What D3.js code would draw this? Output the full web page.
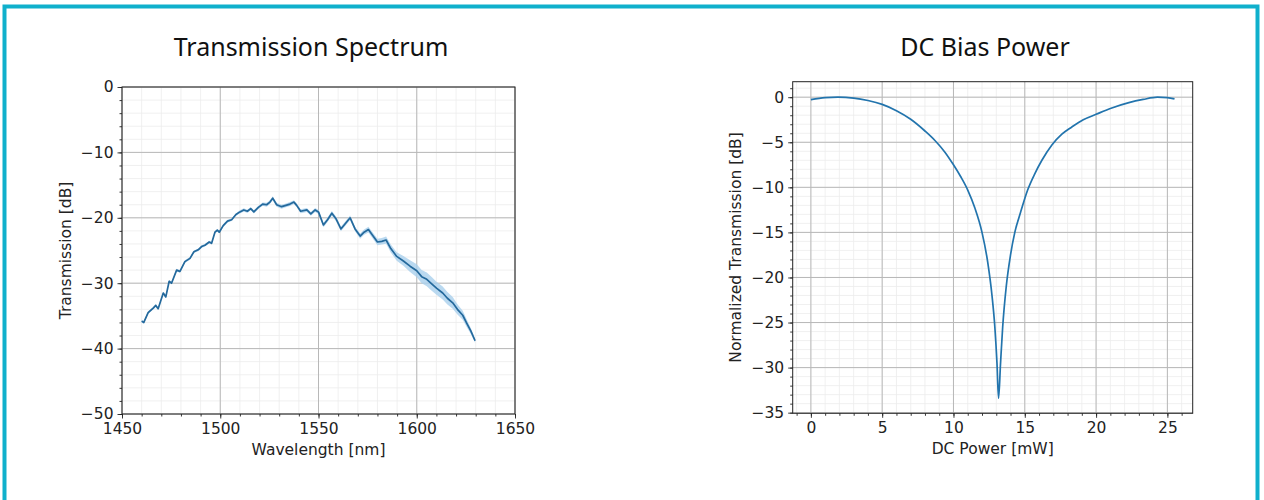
<!DOCTYPE html>
<html>
<head>
<meta charset="utf-8">
<script src="https://cdn.jsdelivr.net/npm/d3@7"></script>
<style>
  body { margin: 0; background: #fff; }
  svg { display: block; }
</style>
</head>
<body>
<svg id="chart" width="1264" height="500"></svg>
<script>
// Transmission spectrum (left panel)
const wavelength = [1460, 1461.1, 1463.3, 1465.9, 1467.2, 1468.4, 1471, 1472.3, 1474, 1475.2,
  1477.8, 1479.5, 1482, 1484.6, 1486.6, 1488.8, 1490.5, 1492.2, 1494.4, 1495.6,
  1497.3, 1498.5, 1499.5, 1501.5, 1503.7, 1505.8, 1508, 1510, 1512, 1513.8,
  1515.5, 1517.1, 1519.4, 1521.6, 1523.6, 1525.3, 1526.7, 1528.7, 1531.2, 1533.4,
  1535.5, 1537.5, 1538.9, 1540.9, 1544.1, 1546.1, 1548.3, 1550, 1552.5, 1554.6,
  1556.8, 1559, 1561.4, 1563.6, 1566.1, 1568.6, 1571.2, 1573.2, 1575.4, 1577.6,
  1580, 1582.2, 1584.4, 1586.8, 1589.8, 1593.2, 1596.6, 1600, 1602.5, 1605.1,
  1607.6, 1610.2, 1613.2, 1615.6, 1618.3, 1620.7, 1623.4, 1625.4, 1627.5, 1629.7];
const transmission = [-35.8, -36, -34.5, -33.8, -33.4, -33.9, -31.5, -32.1, -29.7, -30,
  -28, -28.2, -26.7, -26.2, -25.2, -24.9, -24.4, -24.2, -23.7, -23.9,
  -22.2, -21.9, -22.2, -21.2, -20.5, -20.3, -19.5, -19.1, -18.8, -19,
  -18.6, -19.1, -18.4, -17.9, -18, -17.6, -17, -18, -18.3, -18.1,
  -17.9, -17.6, -18.1, -19, -18.8, -19.4, -18.8, -19.1, -21.1, -20.3,
  -19.3, -20.2, -21.7, -20.9, -20, -21.7, -22.8, -22.2, -21.8, -22.7,
  -23.7, -23.6, -23.4, -24.7, -25.9, -26.6, -27.4, -28.1, -29, -29.4,
  -30.1, -30.8, -31.5, -32.3, -33, -34, -34.9, -36.1, -37.3, -38.8];
const transStd = [0.2, 0.2, 0.2, 0.2, 0.2, 0.2, 0.2, 0.2, 0.2, 0.2,
  0.2, 0.2, 0.2, 0.2, 0.2, 0.2, 0.2, 0.2, 0.2, 0.2,
  0.2, 0.2, 0.2, 0.2, 0.2, 0.2, 0.2, 0.25, 0.25, 0.25,
  0.25, 0.25, 0.25, 0.25, 0.3, 0.3, 0.3, 0.3, 0.3, 0.3,
  0.3, 0.3, 0.3, 0.3, 0.3, 0.3, 0.3, 0.3, 0.35, 0.35,
  0.35, 0.35, 0.35, 0.35, 0.35, 0.35, 0.4, 0.4, 0.45, 0.45,
  0.5, 0.5, 0.55, 0.6, 0.65, 0.75, 0.9, 1.0, 1.0, 1.05,
  1.05, 1.0, 1.0, 0.95, 0.9, 0.8, 0.7, 0.6, 0.45, 0.3];
const wlTicks = [1450, 1500, 1550, 1600, 1650];
const trTicks = [0, -10, -20, -30, -40, -50];

// DC bias sweep (right panel)
const dcPower = [0, 1, 1.9, 3, 4, 5, 6, 7, 8, 8.7, 9.4, 10, 10.5, 11, 11.5, 12, 12.4, 12.7, 12.9, 13.05,
  13.16, 13.3, 13.45, 13.7, 14, 14.3, 14.7, 15.2, 15.7, 16.2, 16.9, 17.6, 18.3, 19.1, 20,
  21, 22.3, 23.3, 24.3, 25, 25.5];
const normTrans = [-0.26, -0.04, 0, -0.1, -0.37, -0.8, -1.5, -2.45, -3.75, -4.8, -6.1, -7.5, -8.8, -10.3, -12.3, -15, -18.3, -22, -25.5, -29.5,
  -33.4, -29.5, -25.5, -21, -17.5, -15, -12.8, -10.3, -8.5, -7, -5.3, -4.1, -3.3, -2.5, -1.9,
  -1.25, -0.6, -0.25, 0, -0.04, -0.18];
const dcTicks = [0, 5, 10, 15, 20, 25];
const ntTicks = [0, -5, -10, -15, -20, -25, -30, -35];

const svg = d3.select("#chart");
const lineColor = "#1f77b4";
const tickFont = "'DejaVu Sans', sans-serif";

// outer cyan frame
svg.append("rect")
  .attr("x", 4.5).attr("y", 6.5)
  .attr("width", 1253).attr("height", 520)
  .attr("fill", "none")
  .attr("stroke", "#10b0cc")
  .attr("stroke-width", 4);

function drawPanel(opt) {
  const x = d3.scaleLinear().domain(opt.xDomain).range([opt.left, opt.right]);
  const y = d3.scaleLinear().domain(opt.yDomain).range([opt.bottom, opt.top]);
  const g = svg.append("g");

  const xMinor = d3.range(Math.ceil(opt.xDomain[0] / opt.xMinorStep) * opt.xMinorStep, opt.xDomain[1] + 1e-9, opt.xMinorStep);
  const yMinor = d3.range(Math.ceil(opt.yDomain[0] / opt.yMinorStep) * opt.yMinorStep, opt.yDomain[1] + 1e-9, opt.yMinorStep);

  // minor grid
  g.selectAll(".xmg").data(xMinor).join("line")
    .attr("x1", d => x(d)).attr("x2", d => x(d))
    .attr("y1", opt.top).attr("y2", opt.bottom)
    .attr("stroke", "#ececec").attr("stroke-width", 0.8);
  g.selectAll(".ymg").data(yMinor).join("line")
    .attr("y1", d => y(d)).attr("y2", d => y(d))
    .attr("x1", opt.left).attr("x2", opt.right)
    .attr("stroke", "#ececec").attr("stroke-width", 0.8);

  // major grid
  g.selectAll(".xg").data(opt.xTicks).join("line")
    .attr("x1", d => x(d)).attr("x2", d => x(d))
    .attr("y1", opt.top).attr("y2", opt.bottom)
    .attr("stroke", "#b8b8b8").attr("stroke-width", 1);
  g.selectAll(".yg").data(opt.yTicks).join("line")
    .attr("y1", d => y(d)).attr("y2", d => y(d))
    .attr("x1", opt.left).attr("x2", opt.right)
    .attr("stroke", "#b8b8b8").attr("stroke-width", 1);

  // data
  const pts = opt.xs.map((v, i) => ({ x: v, y: opt.ys[i], s: opt.sd ? opt.sd[i] : 0 }));
  if (opt.sd) {
    g.append("path")
      .datum(pts)
      .attr("fill", "#a9d0ec")
      .attr("opacity", 0.8)
      .attr("d", d3.area().x(d => x(d.x)).y0(d => y(d.y - d.s)).y1(d => y(d.y + d.s)));
  }
  g.append("path")
    .datum(pts)
    .attr("fill", "none")
    .attr("stroke", opt.stroke || lineColor)
    .attr("stroke-width", 1.7)
    .attr("stroke-linejoin", "round")
    .attr("d", d3.line().x(d => x(d.x)).y(d => y(d.y)).curve(opt.curve || d3.curveLinear));

  // spines
  g.append("rect")
    .attr("x", opt.left).attr("y", opt.top)
    .attr("width", opt.right - opt.left).attr("height", opt.bottom - opt.top)
    .attr("fill", "none").attr("stroke", "#222").attr("stroke-width", 1);

  // axes with major + minor ticks
  const xAxis = g.append("g").attr("transform", `translate(0,${opt.bottom})`);
  xAxis.call(d3.axisBottom(x).tickValues(xMinor).tickSize(2.5).tickFormat(""));
  xAxis.append("g").call(d3.axisBottom(x).tickValues(opt.xTicks).tickSize(4.5).tickPadding(4).tickFormat(d3.format("d")));
  const yAxis = g.append("g").attr("transform", `translate(${opt.left},0)`);
  yAxis.call(d3.axisLeft(y).tickValues(yMinor).tickSize(2.5).tickFormat(""));
  yAxis.append("g").call(d3.axisLeft(y).tickValues(opt.yTicks).tickSize(4.5).tickPadding(4).tickFormat(d3.format("d")));
  g.selectAll(".domain").remove();
  g.selectAll(".tick line").attr("stroke", "#222").attr("stroke-width", 0.9);
  g.selectAll(".tick text")
    .attr("font-family", tickFont).attr("font-size", "15.5px").attr("fill", "#222");

  // labels
  g.append("text")
    .attr("x", (opt.left + opt.right) / 2).attr("y", opt.bottom + 41)
    .attr("text-anchor", "middle")
    .attr("font-family", tickFont).attr("font-size", "15.5px").attr("fill", "#222")
    .text(opt.xLabel);
  g.append("text")
    .attr("transform", `translate(${opt.yLabelX},${(opt.top + opt.bottom) / 2}) rotate(-90)`)
    .attr("text-anchor", "middle")
    .attr("font-family", tickFont).attr("font-size", "15.5px").attr("fill", "#222")
    .text(opt.yLabel);

  svg.append("text")
    .attr("x", opt.titleX).attr("y", 56)
    .attr("text-anchor", "middle")
    .attr("font-family", "'Noto Sans', sans-serif").attr("font-size", "25px").attr("fill", "#111")
    .text(opt.title);
}

drawPanel({
  left: 122, right: 515, top: 87, bottom: 414,
  xDomain: [1450, 1650], yDomain: [-50, 0],
  xTicks: wlTicks, yTicks: trTicks, xMinorStep: 10, yMinorStep: 2,
  xs: wavelength, ys: transmission, sd: transStd, stroke: "#24699c",
  xLabel: "Wavelength [nm]", yLabel: "Transmission [dB]", yLabelX: 71,
  title: "Transmission Spectrum", titleX: 311
});

drawPanel({
  left: 792.7, right: 1192.7, top: 81.7, bottom: 413.3,
  xDomain: [-1.275, 26.775], yDomain: [-35.07, 1.72],
  xTicks: dcTicks, yTicks: ntTicks, xMinorStep: 1, yMinorStep: 1,
  xs: dcPower, ys: normTrans, curve: d3.curveMonotoneX, stroke: "#2274ad",
  xLabel: "DC Power [mW]", yLabel: "Normalized Transmission [dB]", yLabelX: 741,
  title: "DC Bias Power", titleX: 985
});
</script>
</body>
</html>
